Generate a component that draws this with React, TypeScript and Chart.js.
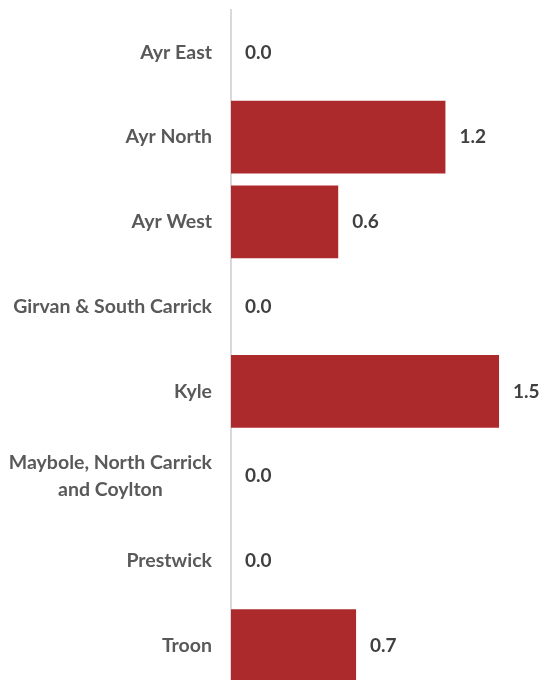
import React, { useEffect, useRef } from "react";
import { Chart, registerables } from "chart.js";

Chart.register(...registerables);

const categories: string[][] = [
  ["Ayr East"],
  ["Ayr North"],
  ["Ayr West"],
  ["Girvan & South Carrick"],
  ["Kyle"],
  ["Maybole, North Carrick", "and Coylton"],
  ["Prestwick"],
  ["Troon"],
];
const values: number[] = [0.0, 1.2, 0.6, 0.0, 1.5, 0.0, 0.0, 0.7];

const FONT = "Lato, 'Open Sans', sans-serif";

export default function App() {
  const ref = useRef<HTMLCanvasElement | null>(null);
  useEffect(() => {
    if (!ref.current) return;
    const labelPlugin = {
      id: "customLabels",
      afterDraw(chart: any) {
        const ctx = chart.ctx;
        const yScale = chart.scales.y;
        const meta = chart.getDatasetMeta(0);
        ctx.save();
        ctx.font = `bold 19.5px ${FONT}`;
        ctx.fillStyle = "#595959";
        ctx.textBaseline = "middle";
        categories.forEach((lines, i) => {
          const y = yScale.getPixelForTick(i);
          const lh = 27;
          const x = chart.chartArea.left - 19;
          if (lines.length === 1) {
            ctx.textAlign = "right";
            ctx.fillText(lines[0], x, y);
          } else {
            const widths = lines.map((l) => ctx.measureText(l).width);
            const maxW = Math.max(...widths);
            const cx = x - maxW / 2;
            ctx.textAlign = "center";
            lines.forEach((l, j) => {
              ctx.fillText(l, cx, y + (j - (lines.length - 1) / 2) * lh);
            });
          }
        });
        ctx.font = `bold 19px ${FONT}`;
        ctx.fillStyle = "#404040";
        ctx.textAlign = "left";
        meta.data.forEach((bar: any, i: number) => {
          ctx.fillText(values[i].toFixed(1), bar.x + 14, bar.y);
        });
        ctx.restore();
      },
    };
    const chart = new Chart(ref.current, {
      type: "bar",
      data: {
        labels: categories.map((c) => c.join(" ")),
        datasets: [
          {
            data: values,
            backgroundColor: "#AD2A2C",
            borderWidth: 0,
            barPercentage: 0.86,
            categoryPercentage: 1,
          },
        ],
      },
      options: {
        indexAxis: "y",
        animation: false,
        responsive: false,
        maintainAspectRatio: false,
        layout: { padding: { top: 10, right: 0, bottom: 0, left: 0 } },
        plugins: { legend: { display: false }, tooltip: { enabled: false } },
        scales: {
          x: {
            display: false,
            min: 0,
            max: 1.746,
          },
          y: {
            grid: { display: false, drawTicks: false },
            border: { display: true, color: "#D9D9D9", width: 2 },
            ticks: { display: false },
            afterFit(scale: any) {
              scale.width = 231;
            },
          },
        },
      },
      plugins: [labelPlugin],
    });
    return () => chart.destroy();
  }, []);
  return (
    <canvas
      ref={ref}
      width={543}
      height={688}
      style={{ display: "block", position: "fixed", left: 0, top: 0 }}
    />
  );
}
